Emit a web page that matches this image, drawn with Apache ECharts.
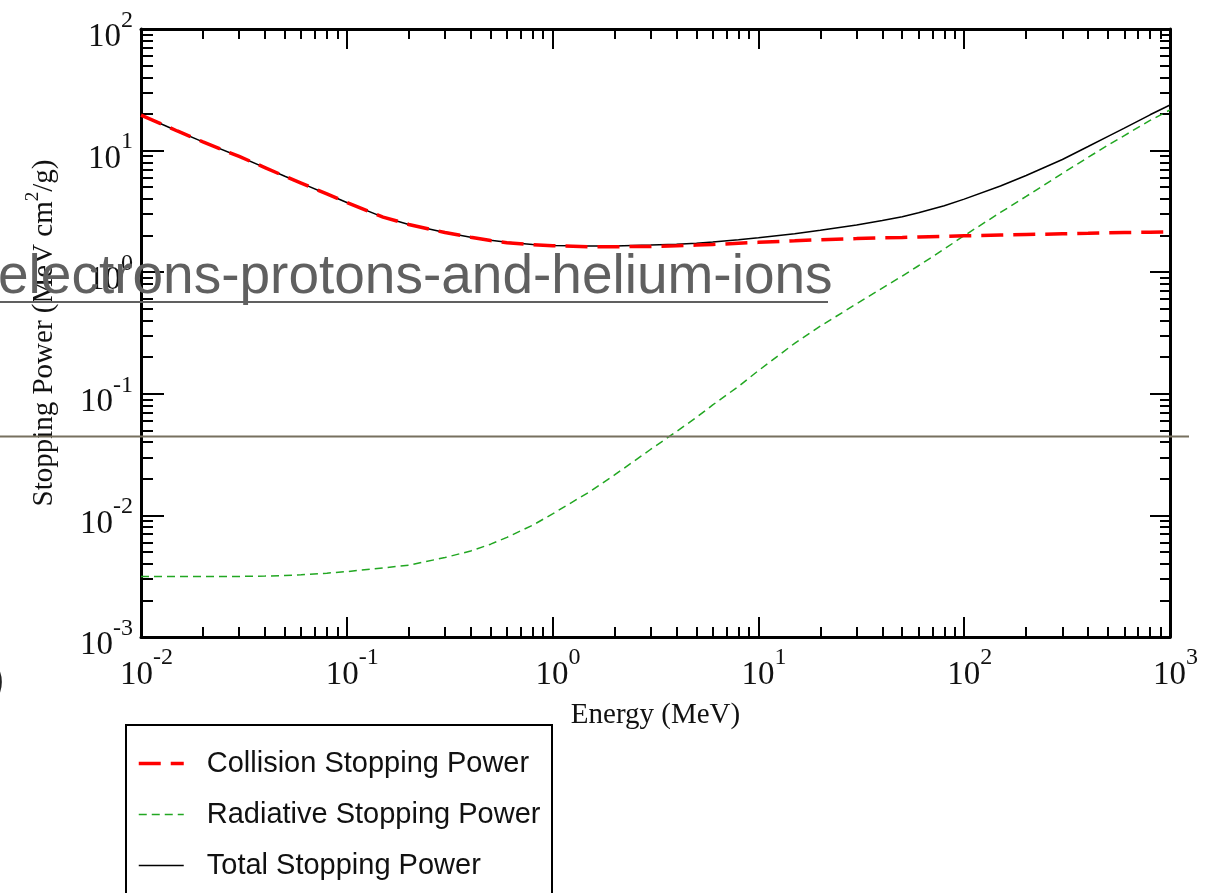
<!DOCTYPE html>
<html>
<head>
<meta charset="utf-8">
<title>Electron Stopping Power</title>
<script src="https://cdn.jsdelivr.net/npm/echarts@6/dist/echarts.min.js"></script>
<style>
  html, body { margin: 0; padding: 0; background: #ffffff; }
  #chart { width: 1225px; height: 893px; }
</style>
</head>
<body>
<div id="chart"></div>
<script>
// Electron stopping power versus kinetic energy (MeV cm^2/g)
const energy = [0.01, 0.015, 0.02, 0.03, 0.04, 0.05, 0.06, 0.08, 0.1, 0.15, 0.2, 0.3, 0.4, 0.5, 0.6, 0.8,
  1, 1.5, 2, 3, 4, 5, 6, 8, 10, 15, 20, 30, 40, 50, 60, 80, 100, 150, 200, 300, 400, 500, 600, 800, 1000];
const collision = [19.6, 14.5, 11.8, 8.95, 7.25, 6.15, 5.4, 4.4, 3.74, 2.84, 2.47, 2.12, 1.94, 1.82, 1.75, 1.68,
  1.65, 1.62, 1.62, 1.63, 1.65, 1.67, 1.69, 1.73, 1.76, 1.81, 1.85, 1.89, 1.92, 1.93, 1.95, 1.97, 1.99, 2.02, 2.04, 2.07, 2.09, 2.11, 2.12, 2.13, 2.14];
const radiative = [3.15e-3, 3.15e-3, 3.15e-3, 3.15e-3, 3.17e-3, 3.2e-3, 3.25e-3, 3.35e-3, 3.45e-3, 3.7e-3, 3.9e-3, 4.5e-3, 5.1e-3, 5.8e-3, 6.6e-3, 8.3e-3,
  0.0103, 0.0155, 0.0215, 0.035, 0.049, 0.064, 0.081, 0.115, 0.155, 0.26, 0.36, 0.55, 0.74, 0.93, 1.13, 1.55, 2.0, 3.1, 4.2, 6.5, 8.8, 11.1, 13.3, 17.7, 21.6];
const total = [19.6, 14.5, 11.8, 8.95, 7.25, 6.15, 5.4, 4.4, 3.74, 2.84, 2.47, 2.12, 1.94, 1.83, 1.76, 1.69,
  1.66, 1.64, 1.64, 1.67, 1.70, 1.73, 1.77, 1.85, 1.92, 2.07, 2.21, 2.44, 2.66, 2.86, 3.08, 3.52, 3.99, 5.12, 6.24, 8.45, 10.8, 13.1, 15.3, 19.7, 23.7];

// Axis decades and the minor steps inside each decade
const xMajor = [0.01, 0.1, 1, 10, 100, 1000];
const yMajor = [0.001, 0.01, 0.1, 1, 10, 100];
const minorSteps = [2, 3, 4, 5, 6, 7, 8, 9];

const seriesNames = ['Collision Stopping Power', 'Radiative Stopping Power', 'Total Stopping Power'];

const RED = '#ff0000';
const GREEN = '#22a722';
const BLACK = '#000000';
const collisionLine = { color: RED, width: 3.5, type: [22, 10] };
const radiativeLine = { color: GREEN, width: 1.5, type: [8, 5] };
const totalLine = { color: BLACK, width: 1.5, type: 'solid' };

function minorValues(majors) {
  const out = [];
  majors.slice(0, -1).forEach(d => minorSteps.forEach(k => out.push(+(k * d).toPrecision(4))));
  return out;
}
const xMinor = minorValues(xMajor);
const yMinor = minorValues(yMajor);

function pairs(ys) { return energy.map((e, i) => [e, ys[i]]); }

const SERIF = '"Liberation Serif", "Times New Roman", serif';
const SANS = '"Liberation Sans", Arial, Helvetica, sans-serif';

const powLabel = v => '{b|10}{s|' + Math.round(Math.log10(v)) + '}';
const powRich = {
  b: { fontFamily: SERIF, fontSize: 33, color: '#111' },
  s: { fontFamily: SERIF, fontSize: 24, color: '#111', padding: [0, 0, 34, 0] }
};

function logAxis(extra, min, max) {
  return Object.assign({
    type: 'log', logBase: 10, min: min, max: max,
    splitLine: { show: false },
    axisLine: { show: false },
    axisLabel: { show: false },
    axisPointer: { show: false }
  }, extra);
}

function tickSet(values, len) {
  return { show: true, inside: true, length: len, customValues: values, lineStyle: { color: '#000', width: 2 } };
}

const boxLine = { show: true, onZero: false, lineStyle: { color: '#000', width: 3 } };

const chart = echarts.init(document.getElementById('chart'), null, { renderer: 'canvas' });

chart.setOption({
  animation: false,
  backgroundColor: '#ffffff',
  grid: { left: 141, right: 55, top: 29, bottom: 256, containLabel: false },
  xAxis: [
    logAxis({
      position: 'bottom',
      axisLine: boxLine,
      axisTick: tickSet(xMajor, 20),
      axisLabel: { show: true, customValues: xMajor, margin: 9, formatter: powLabel, rich: powRich, padding: [0, 0, 0, 11] },
      name: 'Energy (MeV)', nameLocation: 'middle', nameGap: 64,
      nameTextStyle: { fontFamily: SERIF, fontSize: 29, color: '#111' }
    }, 0.01, 1000),
    logAxis({ position: 'bottom', axisTick: tickSet(xMinor, 10) }, 0.01, 1000),
    logAxis({ position: 'top', axisLine: boxLine, axisTick: tickSet(xMajor, 20) }, 0.01, 1000),
    logAxis({ position: 'top', axisTick: tickSet(xMinor, 10) }, 0.01, 1000)
  ],
  yAxis: [
    logAxis({
      position: 'left',
      axisLine: boxLine,
      axisTick: tickSet(yMajor, 23),
      axisLabel: { show: true, customValues: yMajor, margin: 8, formatter: powLabel, rich: powRich, padding: [17, 0, 0, 0] },
      name: 'Stopping Power (MeV cm{sup|2}/g)', nameLocation: 'middle', nameRotate: 90, nameGap: 76,
      nameTextStyle: {
        fontFamily: SERIF, fontSize: 29, color: '#111',
        rich: { sup: { fontFamily: SERIF, fontSize: 19, color: '#111', padding: [0, 0, 22, 0] } }
      }
    }, 0.001, 100),
    logAxis({ position: 'left', axisTick: tickSet(yMinor, 12) }, 0.001, 100),
    logAxis({ position: 'right', axisLine: boxLine, axisTick: tickSet(yMajor, 20) }, 0.001, 100),
    logAxis({ position: 'right', axisTick: tickSet(yMinor, 10) }, 0.001, 100)
  ],
  legend: {
    orient: 'vertical',
    left: 126, top: 725,
    padding: [23, 14, 2, 11],
    itemWidth: 45, itemHeight: 30, itemGap: 20,
    itemStyle: { opacity: 0 },
    data: [
      { name: seriesNames[0], lineStyle: collisionLine },
      { name: seriesNames[1], lineStyle: radiativeLine },
      { name: seriesNames[2], lineStyle: totalLine }
    ],
    textStyle: { fontFamily: SANS, fontSize: 29, color: '#111', padding: [0, 0, 0, 18], lineHeight: 31 }
  },
  series: [
    {
      name: seriesNames[2], type: 'line', data: pairs(total),
      symbol: 'none', smooth: false, z: 2,
      lineStyle: totalLine, itemStyle: { color: BLACK }
    },
    {
      name: seriesNames[1], type: 'line', data: pairs(radiative),
      symbol: 'none', smooth: false, z: 3,
      lineStyle: radiativeLine, itemStyle: { color: GREEN }
    },
    {
      name: seriesNames[0], type: 'line', data: pairs(collision),
      symbol: 'none', smooth: false, z: 4,
      lineStyle: collisionLine, itemStyle: { color: RED }
    }
  ],
  graphic: [
    {
      // frame around the legend, running off the bottom of the page
      type: 'rect', z: 40,
      shape: { x: 126, y: 725, width: 426, height: 220 },
      style: { fill: 'none', stroke: '#000', lineWidth: 2 }
    },
    {
      type: 'line', z: 50,
      shape: { x1: 0, y1: 436.5, x2: 1189, y2: 436.5 },
      style: { stroke: '#77705f', lineWidth: 2 }
    },
    {
      type: 'text', z: 50, left: -2, top: 250,
      style: { text: 'electrons-protons-and-helium-ions', font: '55px ' + SANS, fill: '#606060' }
    },
    {
      type: 'line', z: 50,
      shape: { x1: 0, y1: 302, x2: 828, y2: 302 },
      style: { stroke: '#606060', lineWidth: 2 }
    },
    {
      type: 'text', z: 50, left: -9, top: 662,
      style: { text: ')', font: '40px ' + SANS, fill: '#222222' }
    }
  ]
});
</script>
</body>
</html>
